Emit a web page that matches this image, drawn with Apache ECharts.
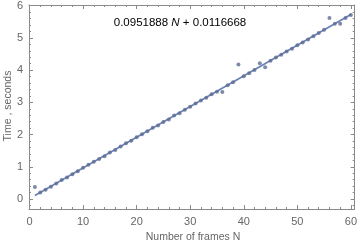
<!DOCTYPE html>
<html><head><meta charset="utf-8">
<script src="https://cdn.jsdelivr.net/npm/echarts@6/dist/echarts.min.js"></script>
<style>html,body{margin:0;padding:0;background:#fff}#c{width:360px;height:245px}</style>
</head><body><div id="c"></div>
<script>
const frames = [1,2,3,4,5,6,7,8,9,10,11,12,13,14,15,16,17,18,19,20,21,22,23,24,25,26,27,28,29,30,31,32,33,34,35,36,37,38,39,40,41,42,43,44,45,46,47,48,49,50,51,52,53,54,55,56,57,58,59,60];
const times = [0.37,0.20,0.29,0.38,0.48,0.59,0.67,0.77,0.86,0.97,1.06,1.16,1.24,1.33,1.44,1.52,1.63,1.73,1.81,1.92,2.01,2.10,2.21,2.28,2.39,2.47,2.59,2.66,2.77,2.86,2.96,3.06,3.14,3.25,3.33,3.32,3.53,3.62,4.17,3.81,3.90,4.00,4.21,4.09,4.29,4.39,4.48,4.58,4.66,4.77,4.86,4.95,5.05,5.15,5.25,5.62,5.44,5.44,5.62,5.71];
const fitX = [1, 60];
const fitY = [0.107, 5.723];
const xMajor = [0,10,20,30,40,50,60];
const xMinor = [2,4,6,8,12,14,16,18,22,24,26,28,32,34,36,38,42,44,46,48,52,54,56,58];
const yMajor = [0,1,2,3,4,5,6];
const yMinor = [-0.2,0.2,0.4,0.6,0.8,1.2,1.4,1.6,1.8,2.2,2.4,2.6,2.8,3.2,3.4,3.6,3.8,4.2,4.4,4.6,4.8,5.2,5.4,5.6,5.8];
const equationText = ['0.0951888 ', 'N', ' + 0.0116668'];
const xTitle = 'Number of frames N';
const yTitle = 'Time , seconds';

const FONT = 'Liberation Sans, Arial, sans-serif';
const frameColor = '#8a8a8a';
const xMin = -0.1, xMax = 60.7, yMin = -0.31, yMax = 6.02;

function xAx(pos, vals, len, labels, show) {
  return {
    type: 'value', position: pos, min: xMin, max: xMax,
    axisLine: { show: show, onZero: false, lineStyle: { color: frameColor, width: 1 } },
    axisTick: { show: true, inside: true, length: len, customValues: vals, lineStyle: { color: frameColor } },
    axisLabel: { show: labels, customValues: vals, color: '#666', fontSize: 11, fontFamily: FONT, margin: 7 },
    splitLine: { show: false }
  };
}
function yAx(pos, vals, len, labels, show) {
  return {
    type: 'value', position: pos, min: yMin, max: yMax,
    axisLine: { show: show, onZero: false, lineStyle: { color: frameColor, width: 1 } },
    axisTick: { show: true, inside: true, length: len, customValues: vals, lineStyle: { color: frameColor } },
    axisLabel: { show: labels, customValues: vals, color: '#666', fontSize: 11, fontFamily: FONT, margin: 6 },
    splitLine: { show: false }
  };
}

const chart = echarts.init(document.getElementById('c'), null, { renderer: 'canvas' });
chart.setOption({
  animation: false,
  grid: { left: 29, right: 3, top: 5, bottom: 36 },
  xAxis: [
    xAx('bottom', xMajor, 4, true, true),
    xAx('bottom', xMinor, 2, false, false),
    xAx('top', xMajor, 4, false, true),
    xAx('top', xMinor, 2, false, false)
  ],
  yAxis: [
    yAx('left', yMajor, 4, true, true),
    yAx('left', yMinor, 2, false, false),
    yAx('right', yMajor, 4, false, true),
    yAx('right', yMinor, 2, false, false)
  ],
  series: [
    {
      type: 'line', xAxisIndex: 0, yAxisIndex: 0,
      data: fitX.map((x, i) => [x, fitY[i]]),
      symbol: 'none', lineStyle: { color: '#6a84b8', width: 1.8 }, z: 2
    },
    {
      type: 'scatter', xAxisIndex: 0, yAxisIndex: 0,
      data: frames.map((x, i) => [x, times[i]]),
      symbolSize: 4, itemStyle: { color: '#5f6c92' }, z: 3
    }
  ],
  graphic: [
    {
      type: 'text', x: 180, y: 23,
      style: {
        text: '{a|' + equationText[0] + '}{b|' + equationText[1] + '}{a|' + equationText[2] + '}',
        align: 'center', verticalAlign: 'middle',
        rich: {
          a: { fontSize: 11.5, fontFamily: FONT, color: '#222' },
          b: { fontSize: 11.5, fontFamily: FONT, fontStyle: 'italic', color: '#222' }
        }
      }
    },
    {
      type: 'text', x: 193, y: 237,
      style: { text: xTitle, fontSize: 10.5, fontFamily: FONT, fill: '#666', align: 'center', verticalAlign: 'middle' }
    },
    {
      type: 'text', x: 8, y: 106, rotation: Math.PI / 2,
      style: { text: yTitle, fontSize: 10.5, fontFamily: FONT, fill: '#666', align: 'center', verticalAlign: 'middle' }
    }
  ]
});
</script></body></html>
